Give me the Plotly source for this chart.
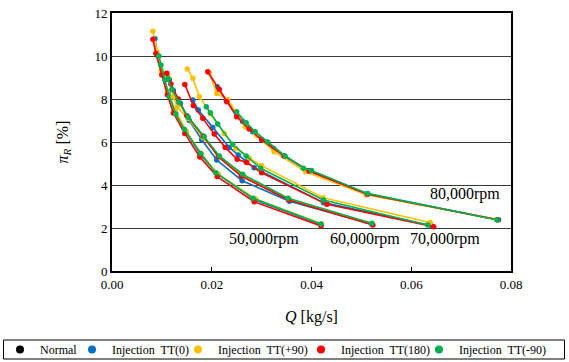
import plotly.graph_objects as go

# ---- data ----
legend_names = ["Normal", "Injection\u00a0 TT(0)", "Injection\u00a0 TT(+90)", "Injection\u00a0 TT(180)", "Injection\u00a0 TT(-90)"]
legend_colors = ["#000000", "#0070C0", "#FFC000", "#FF0000", "#00B050"]
series_colors = legend_colors[1:]

# 50,000 rpm
q50_tt0 = [0.0086, 0.0092, 0.0101, 0.0112, 0.0126, 0.0148, 0.0178, 0.0212, 0.0287, 0.0420]
p50_tt0 = [10.8, 10.0, 9.2, 8.3, 7.5, 6.5, 5.4, 4.5, 3.3, 2.15]
q50_tt90 = [0.0082, 0.0090, 0.0099, 0.0111, 0.0126, 0.0149, 0.0179, 0.0213, 0.0288, 0.0420]
p50_tt90 = [11.15, 10.2, 9.3, 8.35, 7.5, 6.5, 5.45, 4.5, 3.35, 2.2]
q50_tt180 = [0.0082, 0.0088, 0.0100, 0.0111, 0.0123, 0.0146, 0.0176, 0.0211, 0.0285, 0.0419]
p50_tt180 = [10.78, 10.12, 9.12, 8.2, 7.35, 6.4, 5.3, 4.39, 3.22, 2.09]
q50_ttm90 = [0.0094, 0.0098, 0.0106, 0.0115, 0.0128, 0.0145, 0.0178, 0.0208, 0.0283, 0.0419]
p50_ttm90 = [10.0, 9.58, 8.9, 8.1, 7.3, 6.59, 5.47, 4.57, 3.38, 2.19]

# 60,000 rpm
q60_tt0 = [0.0115, 0.0123, 0.0137, 0.0155, 0.0180, 0.0210, 0.0261, 0.0356, 0.0521]
p60_tt0 = [8.9, 8.4, 7.8, 7.0, 6.1, 5.16, 4.2, 3.25, 2.18]
q60_tt90 = [0.0113, 0.0123, 0.0131, 0.0152, 0.0183, 0.0216, 0.0263, 0.0355, 0.0522]
p60_tt90 = [9.0, 8.1, 7.64, 7.1, 6.2, 5.3, 4.45, 3.35, 2.2]
q60_tt180 = [0.0110, 0.0118, 0.0133, 0.0150, 0.0183, 0.0213, 0.0259, 0.0354, 0.0523]
p60_tt180 = [9.2, 8.7, 8.0, 7.22, 6.28, 5.32, 4.42, 3.3, 2.14]
q60_ttm90 = [0.0112, 0.0120, 0.0134, 0.0153, 0.0185, 0.0215, 0.0262, 0.0353, 0.0521]
p60_ttm90 = [8.95, 8.45, 7.85, 7.15, 6.25, 5.35, 4.5, 3.38, 2.22]

# 70,000 rpm
q70_tt0 = [0.0162, 0.0173, 0.0202, 0.0235, 0.0253, 0.0269, 0.0285, 0.0424, 0.0640]
p70_tt0 = [7.95, 7.49, 6.68, 5.75, 5.4, 5.08, 4.8, 3.18, 2.12]
q70_tt90 = [0.0151, 0.0162, 0.0175, 0.0198, 0.0225, 0.0248, 0.0275, 0.0300, 0.0423, 0.0638]
p70_tt90 = [9.4, 8.96, 8.11, 7.3, 6.4, 5.7, 5.25, 4.9, 3.41, 2.26]
q70_tt180 = [0.0146, 0.0163, 0.0182, 0.0205, 0.0227, 0.0251, 0.0270, 0.0300, 0.0431, 0.0645]
p70_tt180 = [8.68, 7.7, 7.1, 6.37, 5.75, 5.2, 5.05, 4.57, 3.1, 2.06]
q70_ttm90 = [0.0189, 0.0197, 0.0212, 0.0242, 0.0269, 0.0298, 0.0424, 0.0633]
p70_ttm90 = [7.64, 7.36, 6.84, 5.89, 5.35, 4.78, 3.3, 2.14]

# 80,000 rpm
q80_tt0 = [0.0211, 0.0229, 0.0262, 0.0282, 0.0324, 0.0393, 0.0513, 0.0775]
p80_tt0 = [8.57, 7.95, 6.95, 6.48, 5.7, 4.67, 3.58, 2.38]
q80_tt90 = [0.0195, 0.0210, 0.0232, 0.0267, 0.0290, 0.0325, 0.0388, 0.0510, 0.0772]
p80_tt90 = [9.22, 8.26, 7.98, 6.71, 6.3, 5.55, 4.62, 3.55, 2.4]
q80_tt180 = [0.0192, 0.0215, 0.0230, 0.0250, 0.0275, 0.0300, 0.0345, 0.0395, 0.0512, 0.0773]
p80_tt180 = [9.27, 8.45, 7.87, 7.18, 6.6, 6.1, 5.35, 4.65, 3.57, 2.38]
q80_ttm90 = [0.0250, 0.0269, 0.0287, 0.0312, 0.0347, 0.0384, 0.0400, 0.0512, 0.0772]
p80_ttm90 = [7.41, 6.9, 6.48, 6.0, 5.35, 4.78, 4.67, 3.61, 2.37]

speed_labels = ["50,000rpm", "60,000rpm", "70,000rpm", "80,000rpm"]
label_q = [0.0305, 0.0508, 0.0668, 0.0708]
label_p = [1.5, 1.5, 1.5, 3.6]

curves = [
    [(q50_tt0, p50_tt0), (q50_tt90, p50_tt90), (q50_tt180, p50_tt180), (q50_ttm90, p50_ttm90)],
    [(q60_tt0, p60_tt0), (q60_tt90, p60_tt90), (q60_tt180, p60_tt180), (q60_ttm90, p60_ttm90)],
    [(q70_tt0, p70_tt0), (q70_tt90, p70_tt90), (q70_tt180, p70_tt180), (q70_ttm90, p70_ttm90)],
    [(q80_tt0, p80_tt0), (q80_tt90, p80_tt90), (q80_tt180, p80_tt180), (q80_ttm90, p80_ttm90)],
]

font_family = "Liberation Serif"
W, H = 569, 362
# left edge (px) of each legend entry
legend_left_px = [-2, 72, 178, 301, 419]

fig = go.Figure()

legend_ids = ["legend", "legend2", "legend3", "legend4", "legend5"]
for name, col, lid in zip(legend_names, legend_colors, legend_ids):
    fig.add_trace(go.Scatter(x=[None], y=[None], mode="markers", name=name, legend=lid,
                             marker=dict(color=col, size=8)))

for speed_curves in curves:
    for (q, p), col in zip(speed_curves, series_colors):
        fig.add_trace(go.Scatter(x=q, y=p, mode="lines+markers", showlegend=False,
                                 line=dict(color=col, width=1.6),
                                 marker=dict(color=col, size=5.5)))

for lab, lq, lp in zip(speed_labels, label_q, label_p):
    fig.add_annotation(x=lq, y=lp, text=lab, showarrow=False,
                       font=dict(family=font_family, size=16, color="black"))

legend_layout = {}
for lid, lx in zip(legend_ids, legend_left_px):
    legend_layout[lid] = dict(orientation="h", xref="container", yref="container",
                              x=lx / W, xanchor="left", y=1 - 349.5 / H, yanchor="middle",
                              borderwidth=0, bgcolor="rgba(0,0,0,0)",
                              font=dict(size=12, family=font_family), itemwidth=30)

# outer box of the legend (paper coordinates, plot area spans x 112..511, y 13..271 px)
fig.add_shape(type="rect", xref="paper", yref="paper",
              x0=(3.5 - 112) / 399, x1=(564.5 - 112) / 399,
              y0=(271 - 340) / 258, y1=(271 - 359) / 258,
              line=dict(color="black", width=1), fillcolor="rgba(0,0,0,0)", layer="above")

fig.update_layout(
    width=W, height=H,
    margin=dict(l=112, r=58, t=13, b=91, autoexpand=False),
    paper_bgcolor="white", plot_bgcolor="white",
    font=dict(family=font_family, size=12, color="black"),
    showlegend=True,
    **legend_layout,
)
fig.update_xaxes(range=[0, 0.08], dtick=0.02, tickformat=".2f",
                 showline=True, linecolor="black", linewidth=2, mirror=True,
                 showgrid=False, zeroline=False,
                 ticks="inside", ticklen=4, tickcolor="black",
                 tickfont=dict(size=13, family=font_family),
                 title=dict(text="<i>Q</i> [kg/s]", font=dict(size=16, family=font_family), standoff=20))
fig.update_yaxes(range=[0, 12], dtick=2,
                 showline=True, linecolor="black", linewidth=2, mirror=True,
                 showgrid=True, gridcolor="#3a3a3a", gridwidth=1, zeroline=False,
                 ticks="", tickfont=dict(size=13, family=font_family),
                 title=dict(text="<i>π<sub>R</sub></i> [%]", font=dict(size=16, family=font_family), standoff=22))

fig.write_html("out.html")
